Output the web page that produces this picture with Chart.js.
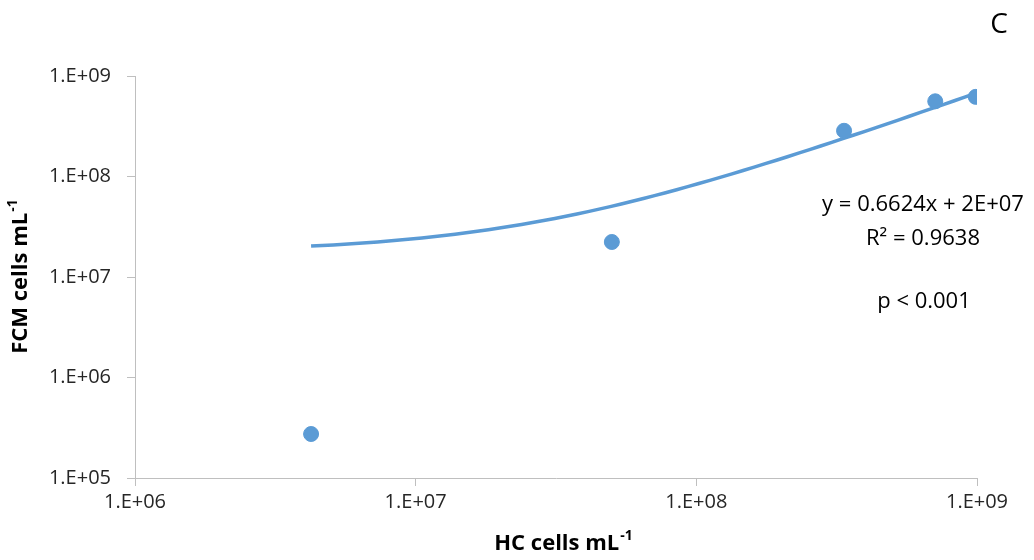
<!DOCTYPE html>
<html>
<head>
<meta charset="utf-8">
<script src="https://cdn.jsdelivr.net/npm/chart.js@4"></script>
<style>
  body { margin: 0; background: #fff; }
  canvas { display: block; }
</style>
</head>
<body>
<canvas id="scatterChart" width="1034" height="560"></canvas>
<script>
// data
const hcCells = [4.24e6, 5.0e7, 3.36e8, 7.1e8, 9.9e8];
const fcmCells = [2.74e5, 2.23e7, 2.85e8, 5.6e8, 6.2e8];
const xTicks = [1e6, 1e7, 1e8, 1e9];
const yTicks = [1e5, 1e6, 1e7, 1e8, 1e9];

// linear trendline as printed on the chart (intercept shown rounded as 2E+07)
const slope = 0.6624;
const intercept = 1.75e7;
const trendX = [];
const lo = Math.log10(Math.min(...hcCells));
const hi = Math.log10(Math.max(...hcCells));
for (let i = 0; i <= 60; i++) trendX.push(Math.pow(10, lo + (hi - lo) * i / 60));
const trend = trendX.map(x => ({ x: x, y: slope * x + intercept }));

const blue = "#5b9bd5";
const axisGrey = "#bfbfbf";
const font = "'Open Sans', sans-serif";

function sci(v) {
  const e = Math.round(Math.log10(v));
  return "1.E+" + (e < 10 ? "0" + e : e);
}

// axis titles with superscript, plus the panel letter and trendline text
const annotations = {
  id: "annotations",
  afterDraw(chart) {
    const ctx = chart.ctx;
    ctx.save();
    ctx.fillStyle = "#000";
    ctx.textBaseline = "middle";

    function supTitle(main, sup, x, y, rot) {
      ctx.save();
      ctx.translate(x, y);
      ctx.rotate(rot);
      ctx.font = "bold 22px " + font;
      const w1 = ctx.measureText(main).width;
      ctx.font = "bold 14px " + font;
      const w2 = ctx.measureText(sup).width;
      const start = -(w1 + w2) / 2;
      ctx.textAlign = "left";
      ctx.font = "bold 22px " + font;
      ctx.fillText(main, start, 0);
      ctx.font = "bold 14px " + font;
      ctx.fillText(sup, start + w1 + 1, -8);
      ctx.restore();
    }
    supTitle("HC cells mL", "-1", 563, 544, 0);
    supTitle("FCM cells mL", "-1", 21, 277, -Math.PI / 2);

    ctx.textAlign = "center";
    ctx.font = "28px " + font;
    ctx.fillText("C", 999, 25);
    ctx.font = "22px " + font;
    ctx.fillText("y = 0.6624x + 2E+07", 923, 205);
    ctx.fillText("R\u00b2 = 0.9638", 923, 239);
    ctx.fillText("p < 0.001", 924, 302);
    ctx.restore();
  }
};

new Chart(document.getElementById("scatterChart"), {
  type: "scatter",
  data: {
    datasets: [{
      label: "HC vs FCM",
      data: hcCells.map((x, i) => ({ x: x, y: fcmCells[i] })),
      backgroundColor: blue,
      borderColor: blue,
      pointRadius: 7.5,
      pointHoverRadius: 7.5,
      order: 0
    }, {
      label: "Linear fit",
      data: trend,
      showLine: true,
      borderColor: blue,
      borderWidth: 3.5,
      pointRadius: 0,
      order: 1
    }]
  },
  options: {
    responsive: false,
    animation: false,
    devicePixelRatio: 1,
    layout: { padding: { left: 0, right: 57, top: 76, bottom: 0 } },
    plugins: {
      legend: { display: false },
      tooltip: { enabled: false }
    },
    scales: {
      x: {
        type: "logarithmic",
        min: 1e6,
        max: 1e9,
        afterFit(scale) { scale.height = 82; },
        afterBuildTicks(scale) { scale.ticks = xTicks.map(v => ({ value: v })); },
        grid: { drawOnChartArea: false, color: axisGrey, tickLength: 8 },
        border: { color: axisGrey, width: 1 },
        ticks: {
          color: "#262626",
          font: { family: font, size: 20 },
          padding: 4,
          maxRotation: 0,
          callback: v => sci(v)
        }
      },
      y: {
        type: "logarithmic",
        min: 1e5,
        max: 1e9,
        afterFit(scale) { scale.width = 135; },
        afterBuildTicks(scale) { scale.ticks = yTicks.map(v => ({ value: v })); },
        grid: { drawOnChartArea: false, color: axisGrey, tickLength: 8 },
        border: { color: axisGrey, width: 1 },
        ticks: {
          color: "#262626",
          font: { family: font, size: 20 },
          padding: 16,
          callback: v => sci(v)
        }
      }
    }
  },
  plugins: [annotations]
});
</script>
</body>
</html>
